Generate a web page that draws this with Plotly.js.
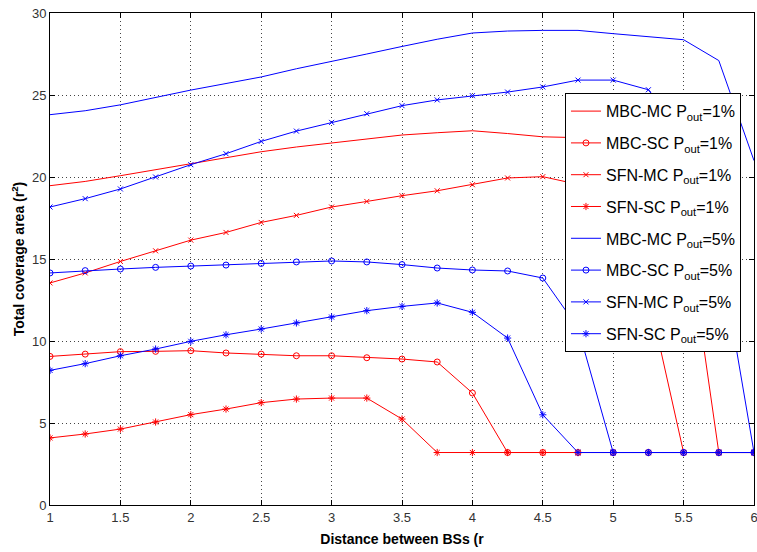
<!DOCTYPE html>
<html>
<head>
<meta charset="utf-8">
<script src="https://cdn.plot.ly/plotly-3.0.1.min.js"></script>
<style>
  html, body { margin: 0; padding: 0; background: #fff; }
  #chart { width: 757px; height: 552px; }
</style>
</head>
<body>
<div id="chart"></div>
<script>
// Distance between base stations (x axis)
const distance = [1, 1.25, 1.5, 1.75, 2, 2.25, 2.5, 2.75, 3, 3.25, 3.5, 3.75, 4, 4.25, 4.5, 4.75, 5, 5.25, 5.5, 5.75, 6];

// Total coverage area, outage probability 1 %
const mbcMc1 = [19.47, 19.73, 20.08, 20.45, 20.79, 21.16, 21.54, 21.83, 22.07, 22.32, 22.56, 22.7, 22.82, 22.65, 22.45, 22.4, 22.2, 21.8, 18.2, 3.2, 3.2];
const mbcSc1 = [9.06, 9.2, 9.35, 9.37, 9.41, 9.27, 9.2, 9.1, 9.1, 8.98, 8.9, 8.72, 6.83, 3.2, 3.2, 3.2, 3.2, 3.2, 3.2, 3.2, 3.2];
const sfnMc1 = [13.54, 14.15, 14.85, 15.5, 16.15, 16.62, 17.23, 17.66, 18.17, 18.51, 18.86, 19.16, 19.53, 19.94, 20.02, 19.55, 19.0, 12.8, 3.2, 3.2, 3.2];
const sfnSc1 = [4.09, 4.33, 4.63, 5.06, 5.51, 5.85, 6.24, 6.46, 6.52, 6.52, 5.24, 3.2, 3.2, 3.2, 3.2, 3.2, 3.2, 3.2, 3.2, 3.2, 3.2];

// Total coverage area, outage probability 5 %
const mbcMc5 = [23.8, 24.04, 24.4, 24.85, 25.3, 25.7, 26.1, 26.6, 27.07, 27.5, 27.96, 28.4, 28.78, 28.9, 28.94, 28.94, 28.74, 28.55, 28.37, 27.1, 21.0];
const mbcSc5 = [14.15, 14.29, 14.39, 14.49, 14.57, 14.63, 14.73, 14.82, 14.88, 14.82, 14.66, 14.45, 14.33, 14.27, 13.84, 10.8, 3.2, 3.2, 3.2, 3.2, 3.2];
const sfnMc5 = [18.17, 18.68, 19.27, 20.0, 20.75, 21.42, 22.17, 22.8, 23.33, 23.86, 24.35, 24.7, 24.96, 25.18, 25.49, 25.91, 25.91, 25.32, 22.4, 15.8, 3.2];
const sfnSc5 = [8.21, 8.62, 9.1, 9.51, 9.98, 10.38, 10.73, 11.1, 11.46, 11.85, 12.11, 12.32, 11.75, 10.18, 5.5, 3.2, 3.2, 3.2, 3.2, 3.2, 3.2];

const seriesNames = [
  'MBC-MC P<sub>out</sub>=1%', 'MBC-SC P<sub>out</sub>=1%', 'SFN-MC P<sub>out</sub>=1%', 'SFN-SC P<sub>out</sub>=1%',
  'MBC-MC P<sub>out</sub>=5%', 'MBC-SC P<sub>out</sub>=5%', 'SFN-MC P<sub>out</sub>=5%', 'SFN-SC P<sub>out</sub>=5%'
];

const RED = 'rgb(255,0,0)';
const BLUE = 'rgb(0,0,255)';

// marker size per symbol so that circles, crosses and stars look alike
const symbolSize = { 'circle-open': 6, 'x-thin-open': 5, 'asterisk-open': 6 };

function series(name, y, color, symbol, idx) {
  const t = {
    x: distance, y: y, name: name, type: 'scatter',
    legendgroup: 'g' + idx,
    mode: symbol ? 'lines+markers' : 'lines',
    line: { color: color, width: 1 }
  };
  if (symbol) {
    t.marker = { symbol: symbol, size: symbolSize[symbol], color: color, line: { color: color, width: 1 } };
  }
  return t;
}

const traces = [
  series(seriesNames[0], mbcMc1, RED, null, 0),
  series(seriesNames[1], mbcSc1, RED, 'circle-open', 1),
  series(seriesNames[2], sfnMc1, RED, 'x-thin-open', 2),
  series(seriesNames[3], sfnSc1, RED, 'asterisk-open', 3),
  series(seriesNames[4], mbcMc5, BLUE, null, 4),
  series(seriesNames[5], mbcSc5, BLUE, 'circle-open', 5),
  series(seriesNames[6], sfnMc5, BLUE, 'x-thin-open', 6),
  series(seriesNames[7], sfnSc5, BLUE, 'asterisk-open', 7)
];

const axisCommon = {
  showline: true, linecolor: '#000', linewidth: 1, mirror: 'allticks',
  ticks: 'inside', ticklen: 5, tickcolor: '#000',
  showgrid: true, gridcolor: '#444', griddash: '1px,3px', gridwidth: 1,
  zeroline: false,
  ticklabeloverflow: 'allow',
  tickfont: { family: 'Liberation Sans, Arial, sans-serif', size: 13, color: '#333' }
};

const layout = {
  width: 757, height: 552,
  margin: { l: 50, r: 3, t: 13, b: 47 },
  paper_bgcolor: '#fff', plot_bgcolor: '#fff',
  showlegend: true,
  font: { family: 'Liberation Sans, Arial, sans-serif', color: '#000' },
  xaxis: Object.assign({}, axisCommon, {
    range: [1, 6], dtick: 0.5, tick0: 1,
    title: { text: '<b>Distance between BSs (r</b>', font: { size: 14, color: '#000' }, standoff: 10 }
  }),
  yaxis: Object.assign({}, axisCommon, {
    range: [0, 30], dtick: 5, tick0: 0,
    title: { text: '<b>Total coverage area (r<sup>2</sup>)</b>', font: { size: 14, color: '#000' }, standoff: 4 }
  }),
  legend: {
    x: 0.7315, y: 0.837, xanchor: 'left', yanchor: 'top',
    bgcolor: '#fff', bordercolor: '#000', borderwidth: 1,
    font: { size: 16, color: '#000', family: 'Liberation Sans, Arial, sans-serif' },
    tracegroupgap: 8,
    itemwidth: 30
  }
};

Plotly.newPlot('chart', traces, layout, { displayModeBar: false, staticPlot: true });
</script>
</body>
</html>
